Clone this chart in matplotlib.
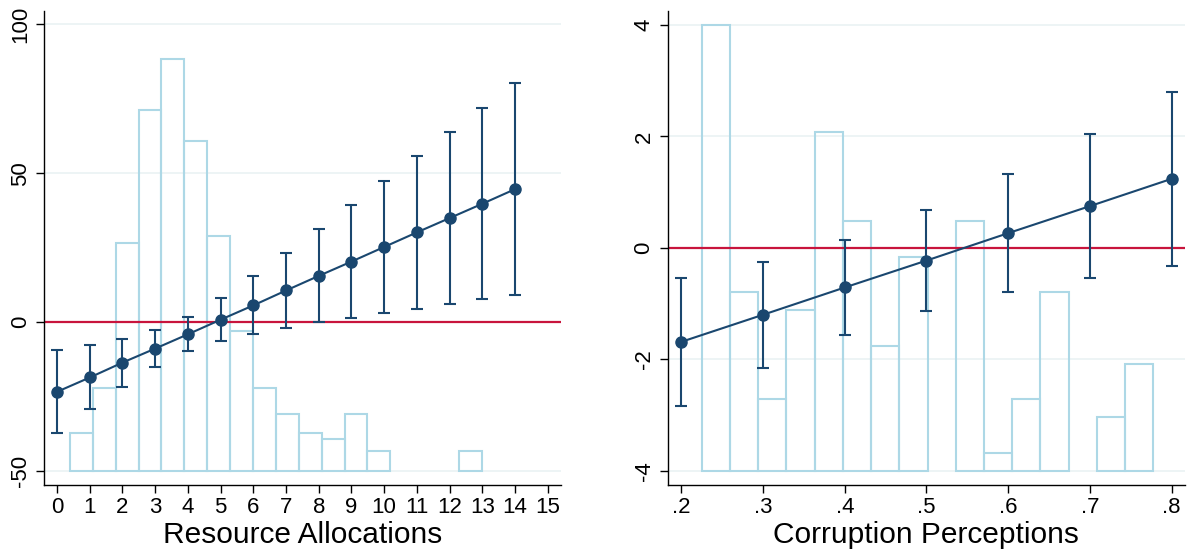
import matplotlib
matplotlib.use("Agg")
import matplotlib.pyplot as plt
import numpy as np

plt.rcParams["font.family"] = ["Liberation Sans", "DejaVu Sans"]
plt.rcParams["axes.unicode_minus"] = False

# --- Resource Allocations panel ---
alloc_x = np.arange(0, 15)
alloc_coef = [-23.4, -18.6, -13.6, -8.9, -4.1, 0.8, 5.6, 10.6, 15.5, 20.3,
              25.2, 30.1, 34.9, 39.7, 44.6]
alloc_hi = [-9.5, -7.7, -5.6, -2.6, 1.8, 8.0, 15.4, 23.3, 31.1, 39.4,
            47.4, 55.6, 63.7, 72.0, 80.1]
alloc_lo = [-37.2, -29.3, -21.9, -15.0, -9.7, -6.3, -3.9, -2.0, -0.1, 1.4,
            2.9, 4.4, 6.0, 7.6, 9.1]
alloc_bin_start = 0.39
alloc_bin_width = 0.70
alloc_hist = [-37.2, -22.2, 26.7, 71.3, 88.4, 60.9, 29.0, -2.9, -22.2, -30.9,
              -37.1, -39.4, -30.9, -43.4, -50, -50, -50, -43.4]
alloc_base = -50
alloc_xticks = list(range(0, 16))
alloc_yticks = [-50, 0, 50, 100]

# --- Corruption Perceptions panel ---
corr_x = [0.2, 0.3, 0.4, 0.5, 0.6, 0.7, 0.8]
corr_coef = [-1.686, -1.20, -0.71, -0.227, 0.265, 0.75, 1.24]
corr_hi = [-0.54, -0.246, 0.15, 0.676, 1.326, 2.04, 2.80]
corr_lo = [-2.83, -2.15, -1.57, -1.13, -0.795, -0.54, -0.32]
corr_bin_start = 0.225
corr_bin_width = 0.03454
corr_counts = [25, 10, 4, 9, 19, 14, 7, 12, 0, 14, 1, 4, 10, 0, 3, 6]
corr_base = -4
corr_top = 4
corr_xticks = [0.2, 0.3, 0.4, 0.5, 0.6, 0.7, 0.8]
corr_xlabels = [".2", ".3", ".4", ".5", ".6", ".7", ".8"]
corr_yticks = [-4, -2, 0, 2, 4]

NAVY = "#1a476f"
LIGHTBLUE = "#add8e6"
RED = "#c8143c"
GRID = "#eaf2f3"


def panel(ax, x, coef, lo, hi, edges, heights, base, xlim, ylim,
          xticks, xlabels, yticks, xlabel):
    for yt in yticks:
        ax.axhline(yt, color=GRID, lw=1.2, zorder=0)
    heights = np.asarray(heights, dtype=float)
    keep = heights > base
    ax.bar(np.asarray(edges)[keep], heights[keep] - base, bottom=base,
           width=edges[1] - edges[0], align="edge", fill=False,
           edgecolor=LIGHTBLUE, lw=1.5, zorder=1)
    ax.axhline(0, color=RED, lw=1.6, zorder=2)
    coef = np.asarray(coef)
    err = [coef - np.asarray(lo), np.asarray(hi) - coef]
    ax.errorbar(x, coef, yerr=err, fmt="o-", color=NAVY, ms=8, lw=1.5,
                elinewidth=1.5, capsize=4.5, capthick=1.5, zorder=3)
    ax.set_xlim(*xlim)
    ax.set_ylim(*ylim)
    ax.set_xticks(xticks)
    ax.set_xticklabels(xlabels, fontsize=16)
    ax.set_yticks(yticks)
    ax.set_yticklabels([str(v) for v in yticks], fontsize=16,
                       rotation=90, va="center")
    ax.tick_params(direction="out", length=6, width=1, pad=3)
    ax.tick_params(axis="y", pad=3.5)
    for s in ("top", "right"):
        ax.spines[s].set_visible(False)
    for s in ("left", "bottom"):
        ax.spines[s].set_linewidth(1)
    ax.set_xlabel(xlabel, fontsize=21.5, labelpad=2)


fig = plt.figure(figsize=(11.96, 5.52), dpi=100)
ax1 = fig.add_axes([0.0368, 0.1219, 0.432, 0.858])
ax2 = fig.add_axes([0.5583, 0.1219, 0.4325, 0.858])

alloc_edges = alloc_bin_start + alloc_bin_width * np.arange(len(alloc_hist))
panel(ax1, alloc_x, alloc_coef, alloc_lo, alloc_hi, alloc_edges, alloc_hist,
      alloc_base, (-0.4, 15.4), (-54.6, 104.4), alloc_xticks,
      [str(v) for v in alloc_xticks], alloc_yticks, "Resource Allocations")

corr_edges = corr_bin_start + corr_bin_width * np.arange(len(corr_counts))
corr_heights = corr_base + (corr_top - corr_base) * np.asarray(corr_counts) / max(corr_counts)
panel(ax2, corr_x, corr_coef, corr_lo, corr_hi, corr_edges, corr_heights,
      corr_base, (0.1834, 0.8163), (-4.25, 4.25), corr_xticks, corr_xlabels,
      corr_yticks, "Corruption Perceptions")

fig.savefig("out.png", dpi=100)
